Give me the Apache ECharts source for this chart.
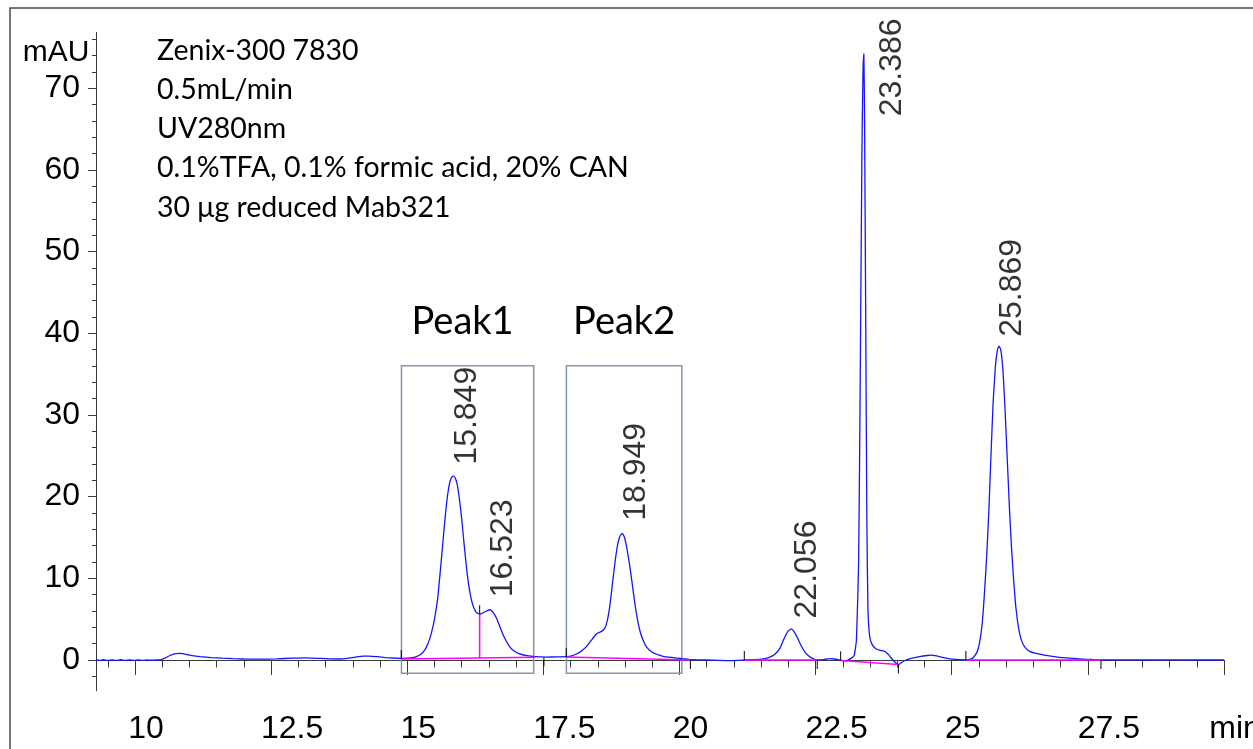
<!DOCTYPE html>
<html><head><meta charset="utf-8">
<script src="https://cdn.jsdelivr.net/npm/echarts@6/dist/echarts.min.js"></script>
<style>html,body{margin:0;padding:0;background:#fff}#c{width:1253px;height:749px}</style>
</head><body><div id="c"></div>
<script>
// ---------- data ----------
const traceTime = [9.284,9.35,9.42,9.5,9.58,9.66,9.74,9.82,9.9,9.98,10.06,10.14,10.22,10.3,10.4,10.48,10.56,10.64,10.72,10.8,10.88,10.96,11.05,11.2,11.4,11.6,11.8,12.0,12.3,12.6,12.9,13.15,13.4,13.6,13.76,13.9,14.05,14.2,14.3,14.45,14.6,14.75,14.89,15.0,15.1,15.18,15.25,15.32,15.38,15.44,15.5,15.56,15.62,15.68,15.73,15.78,15.82,15.849,15.88,15.92,15.96,16.0,16.05,16.1,16.15,16.2,16.26,16.33,16.4,16.47,16.523,16.58,16.64,16.7,16.76,16.82,16.88,16.95,17.05,17.2,17.35,17.55,17.75,17.92,18.02,18.11,18.2,18.29,18.38,18.44,18.5,18.56,18.62,18.67,18.72,18.77,18.82,18.87,18.91,18.949,18.99,19.03,19.08,19.13,19.18,19.23,19.28,19.34,19.4,19.48,19.57,19.7,19.88,20.05,20.2,20.5,20.9,21.2,21.5,21.65,21.75,21.84,21.92,21.99,22.056,22.1,22.16,22.23,22.3,22.38,22.46,22.55,22.65,22.75,22.85,22.96,23.05,23.15,23.21,23.25,23.29,23.32,23.35,23.37,23.386,23.4,23.42,23.44,23.46,23.49,23.53,23.6,23.67,23.74,23.79,23.84,23.88,23.94,24.0,24.03,24.08,24.16,24.28,24.41,24.55,24.62,24.72,24.85,25.0,25.26,25.38,25.46,25.51,25.56,25.6,25.64,25.68,25.72,25.76,25.8,25.84,25.869,25.9,25.94,25.98,26.02,26.06,26.1,26.14,26.18,26.23,26.28,26.35,26.43,26.55,26.7,26.85,27.05,27.3,27.5,27.74,28.2,28.6,29.0,29.5,30.0];
const traceMAU = [0.0,-0.05,0.03,-0.06,0.02,-0.05,0.03,-0.04,0.02,-0.05,0.02,-0.04,0.02,-0.03,0.0,0.05,0.25,0.55,0.75,0.82,0.78,0.66,0.54,0.42,0.3,0.22,0.16,0.12,0.1,0.14,0.22,0.27,0.2,0.13,0.12,0.2,0.35,0.47,0.48,0.4,0.3,0.24,0.2,0.22,0.3,0.45,0.7,1.2,2.0,3.2,5.0,7.6,11.8,16.3,19.6,21.7,22.4,22.5,22.3,21.4,19.6,17.3,13.8,10.6,8.3,6.8,5.9,5.6,5.8,6.05,6.15,5.8,5.1,4.1,3.1,2.3,1.63,1.15,0.78,0.52,0.4,0.36,0.37,0.4,0.5,0.73,1.1,1.63,2.4,2.94,3.3,3.47,3.8,4.7,6.6,9.4,12.2,14.3,15.2,15.5,15.0,13.8,11.8,9.4,6.9,4.9,3.4,2.3,1.55,1.05,0.73,0.45,0.29,0.15,0.05,0.0,-0.08,0.0,0.1,0.33,0.7,1.4,2.6,3.5,3.8,3.5,2.8,1.8,1.0,0.45,0.15,0.0,0.05,0.16,0.12,-0.05,-0.1,0.2,0.6,2.5,12,35,62,72,74.2,65,42,18,6.5,3.0,2.0,1.4,1.2,1.1,0.95,0.65,0.3,-0.15,-0.5,-0.55,-0.3,0.0,0.22,0.4,0.55,0.6,0.5,0.28,0.1,0.0,0.2,0.9,2.1,4.5,8.1,12.5,18.0,25.0,31.5,35.8,38.0,38.4,38.0,35.5,30.5,24.5,18.5,13.5,9.5,6.3,3.8,2.4,1.5,1.05,0.8,0.6,0.45,0.28,0.15,0.08,0.0,0.02,0.0,0.02,0.0,0.0];

const peakTimes   = [15.849, 16.523, 18.949, 22.056, 23.386, 25.869];
const peakHeights = [22.5, 6.15, 15.5, 3.8, 74.2, 38.4];
const peakNames   = ['15.849', '16.523', '18.949', '22.056', '23.386', '25.869'];

const baselineSegments = [
  [[14.89, 0.12], [17.35, 0.33]],
  [[16.33, 0.24], [16.33, 5.6]],
  [[17.92, 0.35], [20.2, 0.0]],
  [[21.19, 0.0], [22.53, 0.0]],
  [[22.96, -0.05], [24.02, -0.55]],
  [[25.26, 0.0], [27.74, 0.0]]
];
const eventStarts = [[14.89, 0.12], [16.33, 5.6], [17.92, 0.35], [21.19, 0.0], [22.96, -0.05], [25.26, 0.0]];
const eventEnds   = [[17.51, 0.3], [20.2, 0.0], [22.53, 0.0], [24.02, -0.55], [27.74, 0.0]];

const boxNames = ['Peak1', 'Peak2'];
const boxStart = [14.894, 17.923];
const boxEnd   = [17.322, 20.044];
const boxTop = 36.0, boxBottom = -1.63;

const xMajorTicks = [10, 12.5, 15, 17.5, 20, 22.5, 25, 27.5, 30];
const yMajorTicks = [0, 10, 20, 30, 40, 50, 60, 70];
const notes = ['Zenix-300 7830', '0.5mL/min', 'UV280nm', '0.1%TFA, 0.1% formic acid, 20% CAN', '30 \u03bcg reduced Mab321'];

// ---------- layout / styles ----------
const X_MIN = 9.284, X_MAX = 30, Y_MIN = -3.76, Y_MAX = 76.83;
const xMinorTicks = []; for (let v = 9.5; v <= 30.001; v += 0.5) xMinorTicks.push(+v.toFixed(2));
const yMinorTicks = []; for (let v = -2; v <= 76; v += 2) yMinorTicks.push(v);
const labelOffsets = [[14, -11], [14, -12], [14, -12], [16, -10], [29, 63], [14, -9]];
const AX = '#3a3a3a';
const F = 'Liberation Sans, Arial, sans-serif';
const NOTE_F = 'Lato, "Open Sans", sans-serif';

const chart = echarts.init(document.getElementById('c'), null, {renderer: 'canvas'});

const series = [];
series.push({
  type: 'line', name: 'trace', xAxisIndex: 0, yAxisIndex: 0,
  data: traceTime.map((t, i) => [t, traceMAU[i]]),
  showSymbol: false, symbol: 'none', smooth: 0.15,
  lineStyle: {color: '#1414ff', width: 1.3}, z: 3,
  markArea: {
    silent: true,
    itemStyle: {color: 'rgba(0,0,0,0)', borderColor: '#8496b0', borderWidth: 1.5},
    label: {show: true, position: 'top', distance: 24, color: '#000', fontFamily: NOTE_F, fontSize: 38},
    data: boxNames.map((n, i) => [
      {name: n, coord: [boxStart[i], boxTop], label: {offset: [i === 0 ? -5 : 0, 0]}},
      {coord: [boxEnd[i], boxBottom]}
    ])
  }
});
baselineSegments.forEach(seg => series.push({
  type: 'line', data: seg, showSymbol: false, symbol: 'none',
  lineStyle: {color: '#ff00ff', width: 1.5}, z: 4
}));
series.push({
  type: 'custom', z: 5,
  data: eventStarts.map(p => [p[0], p[1], 1]).concat(eventEnds.map(p => [p[0], p[1], -1])),
  renderItem: (params, api) => {
    const p = api.coord([api.value(0), api.value(1)]);
    const d = api.value(2);
    return {type: 'line', shape: {x1: p[0], y1: p[1], x2: p[0], y2: p[1] - d * 9},
            style: {stroke: '#000', lineWidth: 1}};
  }
});
series.push({
  type: 'scatter', z: 6, symbolSize: 1, itemStyle: {color: 'rgba(0,0,0,0)'},
  data: peakTimes.map((t, i) => ({
    value: [t, peakHeights[i]], name: peakNames[i],
    label: {show: true, position: labelOffsets[i], rotate: 90, align: 'left', verticalAlign: 'middle',
            formatter: '{b}', fontFamily: F, fontSize: 32, color: '#000'}
  }))
});

const option = {
  animation: false,
  backgroundColor: '#fff',
  grid: {left: 96, right: 29, top: 32.3, bottom: 58.3, containLabel: false, outerBoundsMode: 'none'},
  xAxis: [
    {type: 'value', min: X_MIN, max: X_MAX, position: 'bottom',
     axisLine: {show: true, lineStyle: {color: AX, width: 1}},
     axisTick: {show: true, customValues: xMajorTicks, length: 15, lineStyle: {color: AX}},
     axisLabel: {show: true, customValues: xMajorTicks, margin: 22, hideOverlap: false,
       formatter: v => v === 30 ? '{s|min}' : (String(v).length > 2 ? '{l|' + v + '}' : '{s|' + v + '}'),
       rich: {
         s: {fontFamily: F, fontSize: 32, color: '#000', padding: [0, 0, 0, 22]},
         l: {fontFamily: F, fontSize: 32, color: '#000', padding: [0, 0, 0, 42]}
       }},
     splitLine: {show: false}},
    {type: 'value', min: X_MIN, max: X_MAX, position: 'bottom', offset: 0,
     axisLine: {show: false},
     axisTick: {show: true, customValues: xMinorTicks, length: 7.5, lineStyle: {color: AX}},
     axisLabel: {show: false}, splitLine: {show: false}}
  ],
  yAxis: [
    {type: 'value', min: Y_MIN, max: Y_MAX, position: 'left',
     axisLine: {show: true, lineStyle: {color: AX, width: 1}},
     axisTick: {show: true, customValues: yMajorTicks, length: 8, lineStyle: {color: AX}},
     axisLabel: {show: true, customValues: yMajorTicks, margin: 16, fontFamily: F, fontSize: 32, color: '#000'},
     splitLine: {show: false}},
    {type: 'value', min: Y_MIN, max: Y_MAX, position: 'left', offset: 0,
     axisLine: {show: false},
     axisTick: {show: true, customValues: yMinorTicks, length: 4, lineStyle: {color: AX}},
     axisLabel: {show: false}, splitLine: {show: false}}
  ],
  graphic: [
    {type: 'rect', silent: true, z: -10, shape: {x: 10, y: 8, width: 1500, height: 1000},
     style: {fill: 'none', stroke: '#4a4a4a', lineWidth: 1.5}},
    {type: 'text', silent: true, x: 56, y: 53, style: {text: 'mAU', fontFamily: F, fontSize: 30, fill: '#000', align: 'center', verticalAlign: 'middle'}}
  ].concat(notes.map((s, i) => ({
    type: 'text', silent: true, x: 157, y: 51 + i * 39.1,
    style: {text: s, fontFamily: NOTE_F, fontSize: 28.5, fill: '#000', align: 'left', verticalAlign: 'middle'}
  }))),
  series: series
};
chart.setOption(option);
</script>
</body></html>
